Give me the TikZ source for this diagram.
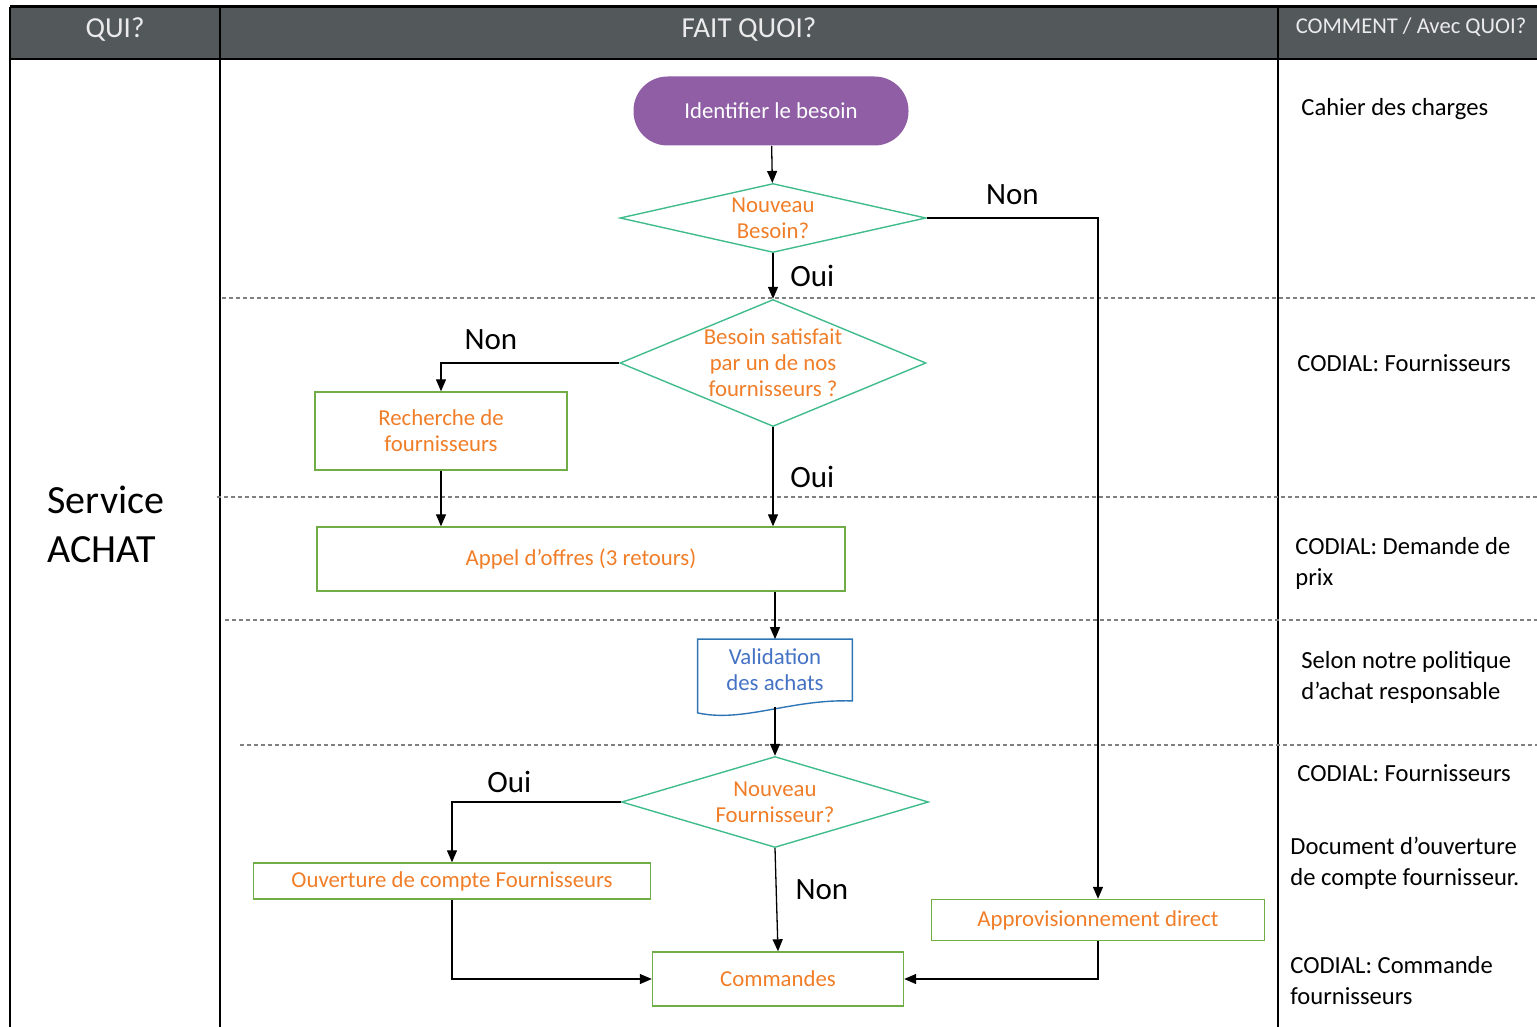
\documentclass[tikz,border=0pt]{standalone}
\usepackage{fontspec}
\setmainfont{Carlito}
\usetikzlibrary{arrows.meta, positioning, shapes.geometric}

\definecolor{headgray}{RGB}{83,88,91}
\definecolor{startpurple}{RGB}{143,94,164}
\definecolor{diamgreen}{RGB}{64,188,140}
\definecolor{boxgreen}{RGB}{112,173,71}
\definecolor{txtorange}{RGB}{240,125,40}
\definecolor{docblue}{RGB}{46,117,182}
\definecolor{doctext}{RGB}{68,114,196}

\begin{document}
\begin{tikzpicture}[
      x=0.5pt, y=-0.5pt,
      >={Triangle[length=6pt,width=5pt]},
      start/.style={fill=startpurple, text=white, rounded corners=17pt, minimum width=137.5pt, minimum height=34.5pt, font=\fontsize{11.4}{13}\selectfont},
      decision/.style={diamond, draw=diamgreen, line width=0.7pt, text=txtorange, align=center, inner sep=0pt, font=\fontsize{11.4}{13}\selectfont},
      process/.style={draw=boxgreen, line width=0.7pt, text=txtorange, align=center, font=\fontsize{11.4}{13}\selectfont},
      docbox/.style={text=doctext, align=center, minimum width=77pt, minimum height=30.5pt, font=\fontsize{11.4}{13}\selectfont},
      flow/.style={->, line width=0.65pt},
      answer/.style={font=\fontsize{15.5}{18}\selectfont},
      sep/.style={gray, line width=0.6pt, dash pattern=on 2pt off 1.5pt},
      rule/.style={line width=1pt},
      head/.style={text=white!92!black},
      how/.style={anchor=west, align=left, inner sep=0pt, font=\fontsize{12.3}{15.5}\selectfont}
    ]
    \useasboundingbox (0,0) rectangle (1537,1027);

    % table frame
    \fill[headgray] (10,7) rectangle (1537,59);
    \draw[line width=1.5pt] (10,7) -- (1537,7);
    \draw[rule] (10,59) -- (1537,59);
    \draw[rule] (10,7) -- (10,1027);
    \draw[rule] (220,7) -- (220,1027);
    \draw[rule] (1278,7) -- (1278,1027);

    \draw[sep] (222,298) -- (1537,298);
    \draw[sep] (217,497) -- (1537,497);
    \draw[sep] (225,620) -- (1537,620);
    \draw[sep] (240,745) -- (1537,745);

    \node[head, font=\fontsize{14.5}{16}\selectfont] (qui) at (115,30) {QUI?};
    \node[head, font=\fontsize{14.5}{16}\selectfont] (quoi) at (749,30) {FAIT QUOI?};
    \node[head, font=\fontsize{11.3}{13}\selectfont] (comment) at (1411,27) {COMMENT / Avec QUOI?};

    \node[anchor=west, align=left, inner sep=0pt, font=\fontsize{20}{24.5}\selectfont] (service) at (47,524) {Service\\ACHAT};

    % flow
    \node[start] (besoin) at (771,111) {Identifier le besoin};
    \node[decision, aspect=4.4, minimum width=153pt, minimum height=34.5pt] (nouveau) at (773,218) {Nouveau\\Besoin?};
    \node[decision, aspect=2.4, minimum width=153pt, minimum height=63.5pt] (satisf) at (773,363) {Besoin satisfait\\par un de nos\\fournisseurs ?};
    \node[process, minimum width=126pt, minimum height=39pt] (recherche) at (441,431) {Recherche de\\fournisseurs};
    \node[process, minimum width=264pt, minimum height=32pt] (appel) at (581,559) {Appel d’offres (3 retours)};
    \node[docbox] (valid) at (775,670) {Validation\\des achats};
    \draw[docblue, line width=0.7pt] (valid.north west) -- (valid.north east) -- (valid.south east)
      .. controls ([xshift=-31pt,yshift=1pt]valid.south east) and ([xshift=23pt,yshift=-11pt]valid.south west) .. ([yshift=-6pt]valid.south west) -- cycle;
    \node[decision, aspect=3.4, minimum width=153.5pt, minimum height=45.5pt] (nouvfourn) at (775,802) {Nouveau\\Fournisseur?};
    \node[process, minimum width=198.5pt, minimum height=18pt] (ouverture) at (452,881) {Ouverture de compte Fournisseurs};
    \node[process, minimum width=125.5pt, minimum height=27pt] (commandes) at (778,979) {Commandes};
    \node[process, minimum width=166.5pt, minimum height=20.5pt] (appro) at (1098,920) {Approvisionnement direct};

    \draw[flow] (besoin) -- (nouveau);
    \draw[flow] (nouveau) -- node[answer, right=5pt] {Oui} (satisf);
    \draw[flow] (nouveau.east) -| node[answer, pos=0.25, above=3pt] {Non} (appro.north);
    \draw[flow] (satisf.west) -| node[answer, pos=0.36, above=3pt] {Non} (recherche.north);
    \draw[flow] (satisf.south) -- node[answer, right=5pt, pos=0.5] {Oui} (satisf.south |- appel.north);
    \draw[flow] (recherche.south) -- (recherche.south |- appel.north);
    \draw[flow] (valid.north |- appel.south) -- (valid.north);
    \draw[flow] ([yshift=-3pt]valid.south) -- (nouvfourn.north);
    \draw[flow] (nouvfourn.west) -| node[answer, pos=0.33, above=1pt] {Oui} (ouverture.north);
    \draw[flow] (nouvfourn.south) -- node[answer, right=6pt, pos=0.4] {Non} (commandes.north);
    \draw[flow] (ouverture.south) |- (commandes.west);
    \draw[flow] (appro.south) |- (commandes.east);

    % comment / avec quoi
    \node[how] (how1) at (1301,109) {Cahier des charges};
    \node[how] (how2) at (1297,363) {CODIAL: Fournisseurs};
    \node[how] (how3) at (1295,563) {CODIAL: Demande de\\prix};
    \node[how] (how4) at (1301,677) {Selon notre politique\\d’achat responsable};
    \node[how] (how5) at (1297,773) {CODIAL: Fournisseurs};
    \node[how] (how6) at (1290,863) {Document d’ouverture\\de compte fournisseur.};
    \node[how] (how7) at (1290,981) {CODIAL: Commande\\fournisseurs};

  \end{tikzpicture}
\end{document}
